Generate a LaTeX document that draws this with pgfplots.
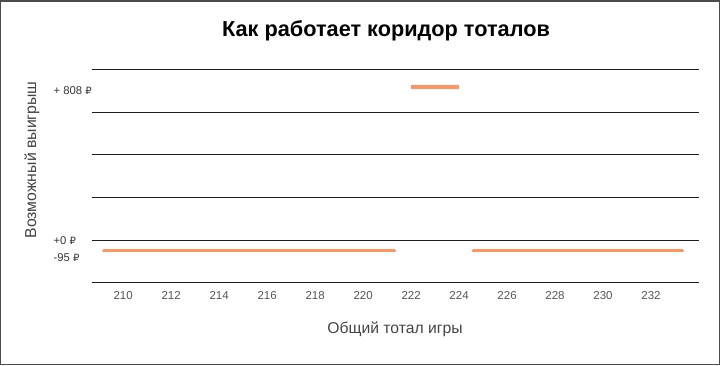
\documentclass[border=0pt]{standalone}
\usepackage{fontspec}
\setmainfont{Liberation Sans}
\newfontfamily\rubf{DejaVu Sans}
\usepackage{pgfplots}
\pgfplotsset{compat=1.18}
\definecolor{lineor}{RGB}{255,148,97}
\definecolor{gridc}{RGB}{30,30,30}
\definecolor{tickc}{RGB}{85,85,85}
\definecolor{labc}{RGB}{68,68,68}
\newcommand{\rub}{{\rubf\fontsize{10}{12}\selectfont ₽}}
\begin{document}
\begin{tikzpicture}
\begin{axis}[
  at={(0,0)}, anchor=south west,
  scale only axis,
  width=607pt, height=213.4pt,
  xmin=208.7, xmax=234,
  ymin=-380, ymax=900,
  y coord trafo/.code={\pgfmathparse{(#1<0)*#1/380+(#1>=0)*#1/225}},
  /pgf/number format/assume math mode=true,
  axis line style={draw=none},
  tick style={draw=none},
  major tick length=0pt,
  xtick={210,212,...,232},
  xticklabel style={font=\fontsize{11.5}{12}\selectfont, text=tickc, yshift=-5pt},
  ytick={-95,0,808},
  yticklabels={{\raisebox{-7pt}{-95 \rub}},{+0 \rub},{\raisebox{-4pt}{+ 808 \rub}}},
  yticklabel style={font=\fontsize{11.3}{12}\selectfont, text=gridc!90!white, anchor=base west, xshift=-42pt, yshift=-4pt},
  extra y ticks={-380,0,225,450,675,900},
  extra y tick labels={},
  extra y tick style={grid=major, major grid style={gridc, line width=0.9pt}},
  clip=false,
]
\addplot[lineor, line width=3.6pt, line cap=round] coordinates {(209.2,-95) (221.3,-95)};
\addplot[lineor, line width=3.6pt, line cap=butt] coordinates {(222,808) (224,808)};
\addplot[lineor, line width=3.6pt, line cap=round] coordinates {(224.6,-95) (233.3,-95)};
\end{axis}
\node[font=\fontsize{21.7}{24}\selectfont\bfseries] at (294pt,251.7pt) {Как работает коридор тоталов};
\node[font=\fontsize{15.7}{18}\selectfont, text=labc] at (303pt,-46.3pt) {Общий тотал игры};
\node[font=\fontsize{15.8}{18}\selectfont, text=labc, rotate=90] at (-60pt,122.7pt) {Возможный выигрыш};
\draw[gray!60!black, line width=1.5pt] (-91.25pt,-81.55pt) rectangle (627.25pt,281.95pt);
\end{tikzpicture}
\end{document}
